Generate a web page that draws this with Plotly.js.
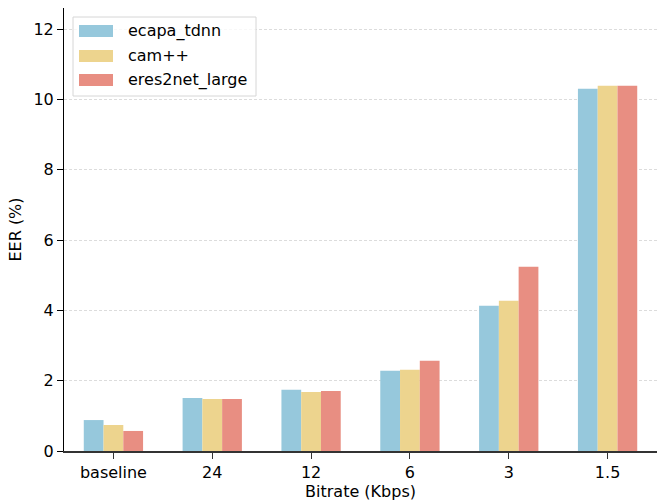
<!DOCTYPE html>
<html><head><meta charset="utf-8">
<script src="https://cdn.plot.ly/plotly-3.0.1.min.js"></script>
<style>html,body{margin:0;padding:0;background:#fff}</style>
</head><body>
<div id="chart" style="width:657px;height:501px"></div>
<script>
const categories = ["baseline", "24", "12", "6", "3", "1.5"];
const seriesNames = ["ecapa_tdnn", "cam++", "eres2net_large"];
const ecapa = [0.88, 1.51, 1.74, 2.28, 4.13, 10.30];
const campp = [0.74, 1.48, 1.68, 2.31, 4.27, 10.39];
const eres2net = [0.57, 1.48, 1.71, 2.57, 5.24, 10.39];
const yTicks = [0, 2, 4, 6, 8, 10, 12];
const colors = ["#96c8dc", "#edd48e", "#e88e82"];

const values = [ecapa, campp, eres2net];
const font = "DejaVu Sans, sans-serif";
const data = values.map((v, i) => ({
  type: "bar", x: categories, y: v, name: seriesNames[i],
  marker: {color: colors[i], line: {width: 0}}, showlegend: false, hoverinfo: "skip"
}));

// matplotlib-style legend drawn in paper coordinates
const W = 657, H = 501, L = 64, R = 0, T = 8, B = 50;
const pw = W - L - R, ph = H - T - B;
const px = x => (x - L) / pw;
const py = y => 1 - (y - T) / ph;
const shapes = [{
  type: "rect", xref: "paper", yref: "paper",
  x0: px(73), x1: px(256), y0: py(96), y1: py(17),
  line: {color: "#d6d6d6", width: 1}, fillcolor: "rgba(255,255,255,0.8)", layer: "above"
}];
const annotations = [];
const rows = [31, 56, 80];
seriesNames.forEach((n, i) => {
  shapes.push({type: "rect", xref: "paper", yref: "paper",
    x0: px(79), x1: px(113), y0: py(rows[i] + 6), y1: py(rows[i] - 6),
    line: {width: 0}, fillcolor: colors[i], layer: "above"});
  annotations.push({xref: "paper", yref: "paper", x: px(126), y: py(rows[i]),
    xanchor: "left", yanchor: "middle", text: n, showarrow: false,
    font: {family: font, size: 16, color: "#000"}});
});

const layout = {
  width: W, height: H, margin: {l: L, r: R, t: T, b: B},
  paper_bgcolor: "#fff", plot_bgcolor: "#fff",
  font: {family: font, size: 16, color: "#000"},
  barmode: "group", bargap: 0.4, bargroupgap: 0,
  xaxis: {
    type: "category", range: [-0.5, 5.5], showgrid: false, zeroline: false,
    showline: true, linecolor: "#333", linewidth: 1.5,
    ticks: "outside", ticklen: 6, tickwidth: 1, tickcolor: "#333",
    tickfont: {family: font, size: 16, color: "#000"},
    title: {text: "Bitrate (Kbps)", font: {family: font, size: 16, color: "#000"}, standoff: 7}
  },
  yaxis: {
    range: [0, 12.6], tickvals: yTicks, ticktext: yTicks.map(String),
    showgrid: true, gridcolor: "#dcdcdc", griddash: "3px,2px", gridwidth: 1,
    zeroline: false, showline: true, linecolor: "#000", linewidth: 1,
    ticks: "outside", ticklen: 6, tickwidth: 1, tickcolor: "#000",
    tickfont: {family: font, size: 16, color: "#000"},
    title: {text: "EER (%)", font: {family: font, size: 16, color: "#000"}, standoff: 7}
  },
  shapes: shapes, annotations: annotations
};
Plotly.newPlot("chart", data, layout, {displayModeBar: false, staticPlot: true});
</script>
</body></html>
